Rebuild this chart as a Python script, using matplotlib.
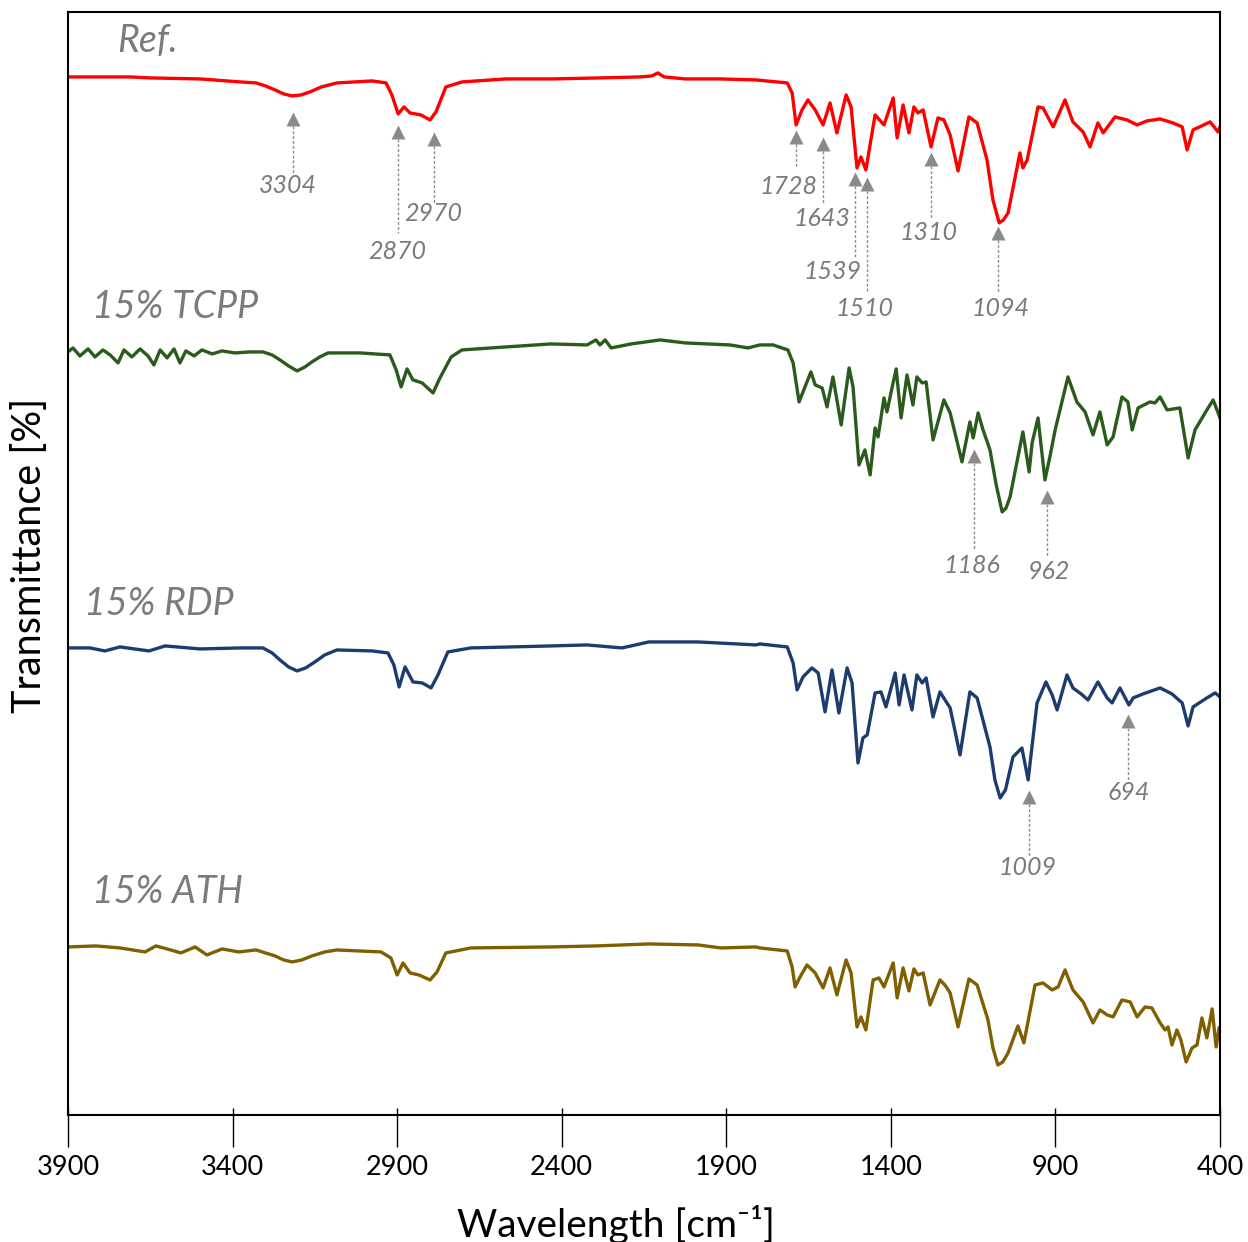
import numpy as np
import matplotlib.pyplot as plt

plt.rcParams['font.family'] = ['Lato', 'DejaVu Sans']

# FTIR spectra, stacked (arbitrary transmittance units, offset per sample)
ref_wn = [3900, 3803, 3711, 3651, 3499, 3377, 3329, 3300, 3271, 3245,
          3219, 3192, 3165, 3130, 3083, 2976, 2934, 2916, 2897, 2879,
          2861, 2828, 2800, 2782, 2752, 2703, 2569, 2433, 2284, 2162,
          2126, 2108, 2089, 2025, 1919, 1810, 1715, 1700, 1688, 1670,
          1652, 1630, 1606, 1585, 1564, 1536, 1521, 1503, 1491, 1476,
          1448, 1421, 1393, 1381, 1363, 1345, 1330, 1318, 1302, 1278,
          1257, 1239, 1220, 1196, 1163, 1138, 1108, 1090, 1071, 1058,
          1044, 1008, 999, 986, 953, 938, 907, 871, 847, 816,
          795, 771, 755, 719, 683, 652, 622, 582, 543, 515,
          500, 482, 430, 406, 400]
ref_t = [1038, 1038, 1038, 1037, 1036, 1033, 1032, 1029, 1025, 1021,
         1019, 1020, 1023, 1028, 1032, 1034, 1032, 1020, 1001, 1008,
         1002, 1000, 995, 1003, 1028, 1033, 1036, 1036, 1037, 1038,
         1039, 1042, 1038, 1036, 1036, 1035, 1032, 1022, 990, 1005,
         1015, 1005, 990, 1012, 982, 1020, 1008, 947, 958, 945,
         1000, 990, 1017, 977, 1010, 982, 1008, 1002, 1005, 968,
         997, 995, 980, 944, 998, 992, 955, 915, 892, 895,
         902, 962, 947, 955, 1008, 1007, 988, 1015, 993, 983,
         968, 992, 982, 998, 995, 990, 994, 996, 992, 988,
         965, 985, 993, 983, 988]

tcpp_wn = [3900, 3885, 3864, 3839, 3818, 3794, 3772, 3748, 3730, 3706,
           3681, 3657, 3639, 3620, 3599, 3578, 3560, 3542, 3517, 3493,
           3462, 3432, 3393, 3347, 3308, 3280, 3256, 3230, 3204, 3180,
           3159, 3135, 3110, 3013, 2922, 2903, 2888, 2870, 2852, 2824,
           2791, 2770, 2736, 2703, 2569, 2433, 2323, 2296, 2284, 2268,
           2250, 2189, 2101, 2025, 1889, 1834,
           1798, 1758, 1713, 1697, 1679, 1661, 1643, 1630, 1609, 1594,
           1576, 1551, 1527, 1515, 1497, 1479, 1463, 1448, 1439, 1421,
           1412, 1396, 1384, 1369, 1351, 1333, 1321, 1305, 1293, 1272,
           1239, 1220, 1184, 1160, 1150, 1135, 1120, 1099, 1080, 1062,
           1050, 1038, 999, 980, 971, 953, 932, 917, 901, 862,
           835, 810, 786, 765, 743, 725, 698, 680, 667, 649,
           613, 598, 582, 561, 522, 497, 476, 440, 421, 400]
tcpp_t = [763, 767, 759, 766, 758, 765, 760, 752, 765, 758,
          766, 759, 750, 765, 757, 766, 752, 764, 759, 765,
          761, 764, 762, 763, 763, 760, 755, 749, 744, 748,
          753, 758, 762, 762, 760, 745, 728, 746, 735, 732,
          722, 737, 758, 765, 768, 771, 770, 775, 770, 775,
          767, 771, 775, 772, 770, 767,
          770, 770, 765, 752, 713, 728, 743, 730, 727, 708,
          738, 690, 747, 728, 650, 665, 640, 687, 678, 717,
          703, 728, 746, 697, 740, 710, 738, 732, 733, 675,
          715, 702, 653, 693, 677, 702, 685, 665, 630, 603,
          607, 618, 683, 643, 672, 697, 635, 658, 685, 738,
          713, 703, 680, 703, 670, 678, 718, 713, 685, 707,
          713, 712, 718, 705, 707, 657, 685, 705, 715, 697]

rdp_wn = [3900, 3833, 3788, 3742, 3654, 3605, 3499, 3377, 3308, 3280,
          3256, 3230, 3204, 3178, 3150, 3120, 3083, 2976, 2928, 2910,
          2894, 2876, 2852, 2824, 2797, 2776, 2746, 2676, 2433, 2323,
          2217, 2135, 1986, 1810,
          1798, 1715, 1697, 1685, 1667, 1640, 1621, 1600, 1579, 1558,
          1533, 1518, 1500, 1485, 1472, 1448, 1430, 1415, 1387, 1375,
          1360, 1336, 1321, 1305, 1293, 1272, 1251, 1220, 1190, 1160,
          1138, 1099, 1084, 1068, 1052, 1029, 1002, 983, 956, 929,
          910, 895, 865, 847, 822, 801, 771, 743, 728, 704,
          677, 664, 634, 582, 546, 515, 497, 482, 440, 415,
          400]
rdp_t = [467, 467, 464, 468, 464, 469, 466, 467, 467, 462,
         455, 448, 444, 447, 453, 460, 465, 464, 462, 450,
         428, 448, 433, 432, 427, 440, 463, 467, 469, 470,
         467, 473, 473, 470,
         471, 468, 452, 425, 438, 447, 442, 403, 445, 402,
         447, 432, 352, 377, 380, 422, 423, 408, 442, 410,
         440, 405, 440, 432, 437, 398, 423, 407, 360, 423,
         417, 368, 335, 317, 325, 358, 367, 335, 412, 433,
         420, 405, 440, 427, 421, 415, 433, 417, 412, 427,
         410, 417, 421, 427, 421, 412, 389, 408, 417, 422,
         418]

ath_wn = [3900, 3815, 3742, 3666, 3633, 3599, 3557, 3514, 3478, 3432,
          3381, 3329, 3271, 3245, 3219, 3190, 3159, 3120, 3083, 2949,
          2919, 2900, 2882, 2861, 2834, 2800, 2779, 2752, 2676, 2433,
          2296, 2135, 1986, 1916, 1810,
          1798, 1715, 1700, 1691, 1676, 1655, 1630, 1606, 1585, 1564,
          1536, 1521, 1503, 1491, 1476, 1454, 1436, 1421, 1393, 1381,
          1363, 1345, 1330, 1318, 1302, 1281, 1251, 1236, 1220, 1196,
          1163, 1138, 1105, 1090, 1075, 1060, 1044, 1014, 996, 962,
          938, 910, 892, 871, 847, 816, 786, 765, 743, 725,
          698, 673, 652, 628, 607, 582, 567, 558, 546, 531,
          519, 503, 485, 470, 455, 440, 424, 412, 403]
ath_t = [168, 169, 167, 163, 169, 166, 162, 168, 160, 166,
         163, 165, 159, 155, 153, 155, 159, 163, 165, 163,
         157, 140, 152, 142, 140, 135, 143, 162, 167, 168,
         169, 171, 170, 167, 168,
         167, 164, 148, 128, 138, 150, 142, 127, 147, 120,
         155, 142, 88, 98, 85, 135, 137, 128, 152, 117,
         147, 124, 146, 140, 142, 110, 135, 130, 122, 88,
         136, 130, 95, 67, 50, 53, 62, 89, 72, 130,
         132, 125, 128, 145, 125, 113, 92, 105, 100, 98,
         115, 113, 98, 108, 107, 92, 85, 88, 70, 85,
         75, 53, 67, 70, 97, 77, 106, 68, 87]

sample_names = ['Ref.', '15% TCPP', '15% RDP', '15% ATH']
sample_colors = ['#ff0000', '#2b5b1c', '#1d3c6e', '#7f5f00']

# where each sample name sits (left edge wn, baseline level)
name_pos = [(3751, 1063), (3827, 797), (3851, 500), (3827, 212)]

# peak callouts: label, arrow wn, arrow tip, dashed tail end, text wn, text level
peak_marks = [
    ('3304', 3216, 1002, 940, 3232, 929),
    ('2870', 2897, 989, 882, 2900, 863),
    ('2970', 2788, 982, 912, 2791, 901),
    ('1728', 1688, 984, 948, 1712, 928),
    ('1643', 1606, 977, 912, 1609, 896),
    ('1539', 1509, 942, 858, 1579, 843),
    ('1510', 1472, 937, 822, 1479, 806),
    ('1310', 1278, 962, 897, 1287, 882),
    ('1094', 1074, 888, 823, 1068, 806),
    ('1186', 1147, 665, 565, 1153, 549),
    ('962', 926, 624, 558, 920, 543),
    ('1009', 980, 324, 258, 986, 247),
    ('694', 680, 400, 335, 677, 322),
]

xticks = np.arange(3900, 399, -500)

fig = plt.figure(figsize=(12.48, 12.42), dpi=100)
ax = fig.add_axes([0.0545, 0.1023, 0.9231, 0.8881])

spectra = [(ref_wn, ref_t), (tcpp_wn, tcpp_t), (rdp_wn, rdp_t), (ath_wn, ath_t)]
for (wn, t), c in zip(spectra, sample_colors):
    ax.plot(wn, t, color=c, lw=2.4, solid_joinstyle='round')

grey = '#7b7b7b'
for name, (x, y) in zip(sample_names, name_pos):
    ax.text(x, y, name, fontsize=27, style='italic', color=grey,
            ha='left', va='baseline')

arrow_grey = '#8a8a8a'
for lab, x, tip, tail, tx, ty in peak_marks:
    ax.plot([x, x], [tip - 13, tail], color=arrow_grey, lw=1,
            ls=(0, (2, 1.5)))
    ax.plot(x, tip - 6.5, marker='^', ms=9.5, color=arrow_grey, mec='none')
    ax.text(tx, ty, lab, fontsize=18, style='italic', color=grey,
            ha='center', va='center')

ax.set_xlim(3900, 400)
ax.set_ylim(0, 1103)
ax.set_xticks(xticks)
ax.set_xticks(xticks, minor=True)
ax.xaxis.remove_overlapping_locs = False
ax.tick_params(axis='x', which='major', direction='out', length=23, width=1,
               pad=6, labelsize=19.5)
ax.tick_params(axis='x', which='minor', direction='in', length=5, width=1)
ax.tick_params(axis='y', left=False, labelleft=False)
for s in ax.spines.values():
    s.set_linewidth(1.5)

ax.set_xlabel('Wavelength [cm⁻¹]', fontsize=28)
ax.xaxis.set_label_coords(0.476, -0.0997)
ax.xaxis.label.set_va('center')
ax.set_ylabel('Transmittance [%]', fontsize=28.5)
ax.yaxis.set_label_coords(-0.033, 0.507)
ax.yaxis.label.set_va('center')

fig.savefig('out.png', dpi=100)
